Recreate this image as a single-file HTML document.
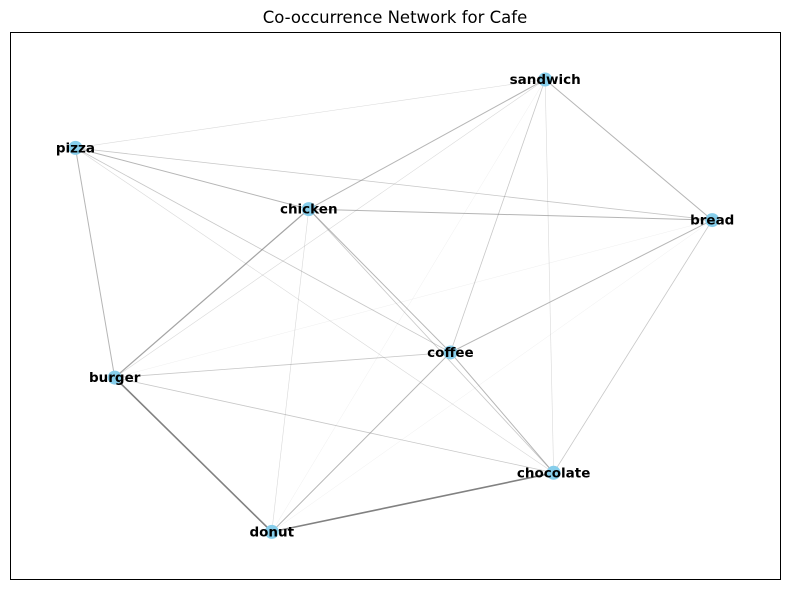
<!DOCTYPE html>
<html><head><meta charset="utf-8"><style>
body{margin:0;background:#fff;font-family:"Liberation Sans","DejaVu Sans",sans-serif}
</style></head><body>
<svg id="chart" width="790" height="590" xmlns="http://www.w3.org/2000/svg">
<rect x="0" y="0" width="790" height="590" fill="#fff"/>
<text x="395" y="23" text-anchor="middle" font-size="16.5" font-family="DejaVu Sans, sans-serif">Co-occurrence Network for Cafe</text>
<rect x="10.5" y="32.5" width="770" height="547" fill="none" stroke="#000" stroke-width="1"/>
<g id="edges"></g><g id="nodes"></g><g id="labels"></g>
</svg>
<script>
const nodeNames=["sandwich","pizza","chicken","bread","coffee","burger","chocolate","donut"];
const nodeX=[0.695,0.085,0.388,0.912,0.572,0.136,0.706,0.34];
const nodeY=[0.915,0.79,0.678,0.658,0.416,0.37,0.196,0.088];
const edgeSrc=["pizza","pizza","pizza","pizza","pizza","pizza","sandwich","sandwich","sandwich","sandwich","sandwich","sandwich","chicken","chicken","chicken","chicken","chicken","bread","bread","bread","bread","coffee","coffee","coffee","burger","burger","donut"];
const edgeDst=["sandwich","chicken","bread","burger","coffee","chocolate","chicken","bread","coffee","chocolate","burger","donut","bread","coffee","chocolate","donut","burger","coffee","chocolate","burger","donut","burger","donut","chocolate","chocolate","donut","chocolate"];
const edgeWeight=[1,3,2,3,2,1,3,3,2,1,1,0,3,3,2,1,4,3,2,0,0,2,3,3,2,6,6];
const X=v=>10+v*770, Y=v=>580-v*547;
const NS="http://www.w3.org/2000/svg";
const eg=document.getElementById('edges'),ng=document.getElementById('nodes'),lg=document.getElementById('labels');
const idx=n=>nodeNames.indexOf(n);
edgeSrc.forEach((s,i)=>{const a=idx(s),b=idx(edgeDst[i]),w=edgeWeight[i];
 const l=document.createElementNS(NS,'line');
 l.setAttribute('x1',X(nodeX[a]));l.setAttribute('y1',Y(nodeY[a]));
 l.setAttribute('x2',X(nodeX[b]));l.setAttribute('y2',Y(nodeY[b]));
 l.setAttribute('stroke','#777');l.setAttribute('stroke-width',Math.min(1.6,0.4+w*0.2));
 l.setAttribute('stroke-opacity',Math.min(1,0.15+w*0.13));
 
 
 eg.appendChild(l);});
nodeNames.forEach((n,i)=>{const c=document.createElementNS(NS,'circle');
 c.setAttribute('cx',X(nodeX[i]));c.setAttribute('cy',Y(nodeY[i]));c.setAttribute('r',7);c.setAttribute('fill','#87ceeb');
 
 
 ng.appendChild(c);
 const t=document.createElementNS(NS,'text');
 t.setAttribute('x',X(nodeX[i]));t.setAttribute('y',Y(nodeY[i])+4.5);t.setAttribute('text-anchor','middle');
 t.setAttribute('font-size','13.5');t.setAttribute('font-weight','bold');t.setAttribute('font-family','DejaVu Sans, sans-serif');
 t.textContent=n;
 
 
 lg.appendChild(t);});
</script>
</body></html>
